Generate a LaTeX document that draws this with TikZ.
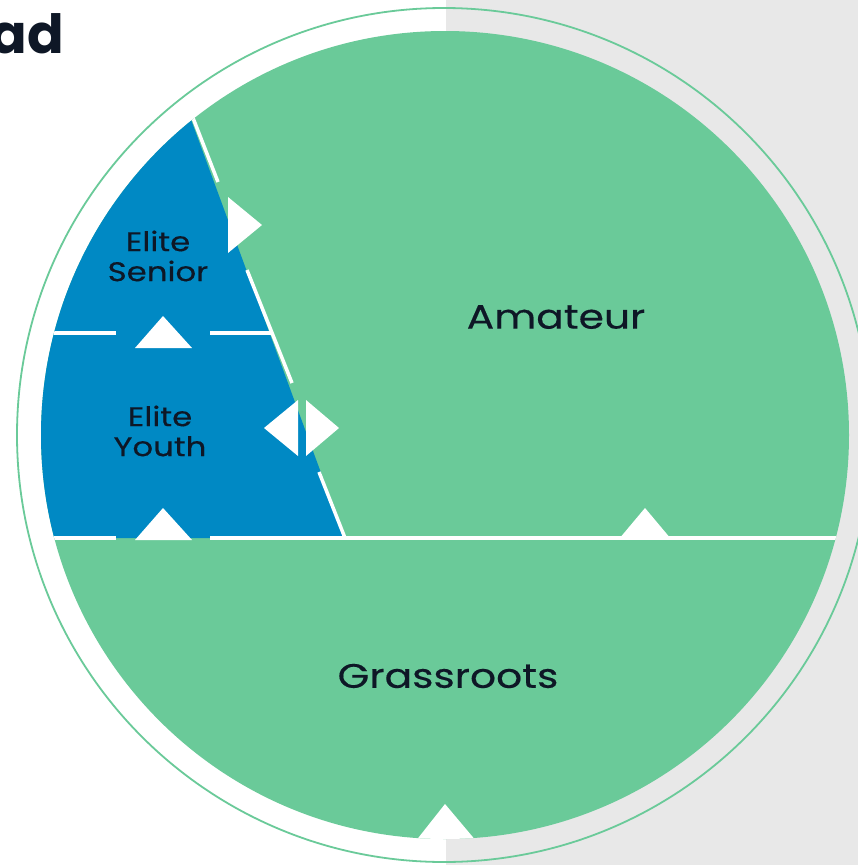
\documentclass[tikz,border=0pt]{standalone}
\usepackage{fontspec}
\setmainfont{Poppins}[FakeStretch=1.2,FakeBold=0.4]
\newfontfamily\headfont{Poppins}[UprightFont=* Bold]
\begin{document}
\begin{tikzpicture}[x=1pt,y=-1pt,
  labeltext/.style={text=inkc,align=center,inner sep=0pt},
  sepline/.style={draw=white,line width=4pt},
  marker/.style={fill=white,draw=none}]
\definecolor{greenc}{HTML}{6ACA99}
\definecolor{bluec}{HTML}{0089C4}
\definecolor{grayc}{HTML}{E8E8E8}
\definecolor{inkc}{HTML}{0E1726}
\useasboundingbox (0,0) rectangle (858,865);
% background halves
\fill[white] (0,0) rectangle (446,865);
\fill[grayc] (446,0) rectangle (858,865);
% outer ring
\draw[greenc,line width=1.8pt] (444,435) circle[radius=427];
% inner disk
\fill[greenc] (445,435) circle[radius=404];
\begin{scope}
  \clip (445,435) circle[radius=404];
  \fill[bluec] (147,0) -- (345,538) -- (0,538) -- (0,0) -- cycle;
  % horizontal separators
  \draw[sepline] (0,538) -- (116,538);
  \draw[sepline] (210,538) -- (900,538);
  \draw[sepline] (0,333) -- (116,333);
  \draw[sepline] (210,333) -- (271,333);
  % slanted separator pieces
  \draw[sepline,line width=3.5pt] (147,0) -- (218,182);
  \draw[sepline,line width=3.5pt] (247,270) -- (292,383);
  \draw[sepline,line width=3.5pt] (319,472) -- (345,538);
  % markers
  \fill[marker] (135,348) -- (163,316) -- (192,348) -- cycle;
  \fill[marker] (135,540) -- (163,508) -- (192,540) -- cycle;
  \fill[marker] (228,197) -- (262,225) -- (228,253) -- cycle;
  \fill[marker] (298,400) -- (264,428) -- (298,456) -- cycle;
  \fill[marker] (306,400) -- (339,428) -- (306,456) -- cycle;
  \fill[marker] (619,539) -- (645,508) -- (671,539) -- cycle;
  \fill[marker] (415,842) -- (445,804) -- (477,842) -- cycle;
\end{scope}
% labels
\node[labeltext,font=\fontsize{27}{30}\selectfont] (senior) at (158,256) {Elite\\Senior};
\node[labeltext,font=\fontsize{27}{30}\selectfont] (youth) at (160,431) {Elite\\Youth};
\node[labeltext,font=\fontsize{34}{40}\selectfont] (amateur) at (556,317) {Amateur};
\node[labeltext,font=\fontsize{34}{40}\selectfont] (grass) at (448,676) {Grassroots};
\node[text=inkc,inner sep=0pt,anchor=base east,font=\headfont\fontsize{54}{60}\selectfont] (head) at (64,53) {ad};
\end{tikzpicture}
\end{document}
